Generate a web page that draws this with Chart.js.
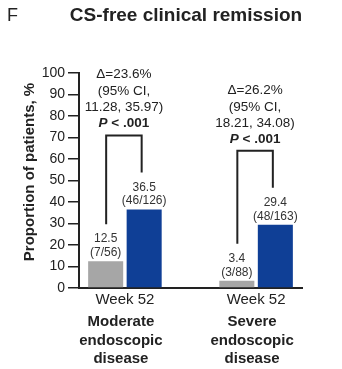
<!DOCTYPE html>
<html>
<head>
<meta charset="utf-8">
<script src="https://cdn.jsdelivr.net/npm/chart.js@4.4.1/dist/chart.umd.min.js"></script>
<style>
  html, body { margin: 0; padding: 0; background: #fff; }
  #wrap { position: relative; width: 342px; height: 369px; }
</style>
</head>
<body>
<div id="wrap"><canvas id="remission"></canvas></div>
<script>
// ---------- data ----------
const panelLetter = 'F';
const chartTitle = 'CS-free clinical remission';
const timepoint = 'Week 52';
const groups = [
  ['Moderate', 'endoscopic', 'disease'],
  ['Severe', 'endoscopic', 'disease']
];
const placeboPct = [12.5, 3.4];
const placeboN = ['7/56', '3/88'];
const treatedPct = [36.5, 29.4];
const treatedN = ['46/126', '48/163'];
const deltas = ['23.6', '26.2'];
const ciLow = ['11.28', '18.21'];
const ciHigh = ['35.97', '34.08'];
const pText = ['< .001', '< .001'];
const yTicks = [0, 10, 20, 30, 40, 50, 60, 70, 80, 90, 100];

const INK = '#222';
const FONT = '"Liberation Sans", Arial, sans-serif';

const toPoints = (vals) => vals.map((v, i) => ({ x: i, y: v }));

// ---------- annotations drawn on top of the chart ----------
const annotate = {
  id: 'annotate',
  afterDraw(chart) {
    const { ctx, scales } = chart;
    const xs = scales.x;
    const ys = scales.y;
    const gray = chart.getDatasetMeta(0).data;
    const blue = chart.getDatasetMeta(1).data;
    ctx.save();

    // panel letter + title
    ctx.fillStyle = INK;
    ctx.textBaseline = 'middle';
    ctx.textAlign = 'left';
    ctx.font = '18px ' + FONT;
    ctx.fillText(panelLetter, 7, 16);
    ctx.textAlign = 'center';
    ctx.font = 'bold 19px ' + FONT;
    ctx.fillText(chartTitle, 186, 16);

    // y axis title
    ctx.save();
    ctx.translate(30, 172);
    ctx.rotate(-Math.PI / 2);
    ctx.font = 'bold 15px ' + FONT;
    ctx.fillText('Proportion of patients, %', 0, 0);
    ctx.restore();

    // value labels above bars
    ctx.font = '12px ' + FONT;
    ctx.fillStyle = '#333';
    const valueLabel = (bar, pct, n) => {
      ctx.fillText(pct.toFixed(1), bar.x, bar.y - 22);
      ctx.fillText('(' + n + ')', bar.x, bar.y - 8.5);
    };
    groups.forEach((g, i) => {
      valueLabel(gray[i], placeboPct[i], placeboN[i]);
      valueLabel(blue[i], treatedPct[i], treatedN[i]);
    });

    // brackets + delta text
    groups.forEach((g, i) => {
      const lx = gray[i].x + 0.5;
      const rx = blue[i].x - 2.5;
      const top = blue[i].y - 74;
      ctx.strokeStyle = INK;
      ctx.lineWidth = 2;
      ctx.beginPath();
      ctx.moveTo(lx, gray[i].y - 37);
      ctx.lineTo(lx, top);
      ctx.lineTo(rx, top);
      ctx.lineTo(rx, blue[i].y - 37);
      ctx.stroke();

      const cx = (lx + rx) / 2;
      ctx.fillStyle = INK;
      ctx.font = '13.5px ' + FONT;
      ctx.textAlign = 'center';
      ctx.fillText('\u0394=' + deltas[i] + '%', cx, top - 61);
      ctx.fillText('(95% CI,', cx, top - 44);
      ctx.fillText(ciLow[i] + ', ' + ciHigh[i] + ')', cx, top - 28);

      // "P < .001" with italic P
      ctx.font = 'italic bold 13.5px ' + FONT;
      const wP = ctx.measureText('P').width;
      ctx.font = 'bold 13.5px ' + FONT;
      const rest = ' ' + pText[i];
      const wR = ctx.measureText(rest).width;
      const x0 = cx - (wP + wR) / 2;
      ctx.textAlign = 'left';
      ctx.font = 'italic bold 13.5px ' + FONT;
      ctx.fillText('P', x0, top - 12);
      ctx.font = 'bold 13.5px ' + FONT;
      ctx.fillText(rest, x0 + wP, top - 12);
      ctx.textAlign = 'center';
    });

    // group names under the x tick labels
    ctx.font = 'bold 15px ' + FONT;
    ctx.fillStyle = INK;
    groups.forEach((lines, i) => {
      const x = xs.getPixelForValue(i) - 4;
      lines.forEach((t, k) => ctx.fillText(t, x, 322 + k * 18.5));
    });

    ctx.restore();
  }
};

new Chart(document.getElementById('remission'), {
  type: 'bar',
  data: {
    datasets: [
      { data: toPoints(placeboPct), backgroundColor: '#a6a6a6' },
      { data: toPoints(treatedPct), backgroundColor: '#0f3f96' }
    ]
  },
  options: {
    responsive: true,
    maintainAspectRatio: false,
    animation: false,
    categoryPercentage: 0.587,
    barPercentage: 0.91,
    layout: { padding: { left: 0, right: 40, top: 73, bottom: 0 } },
    plugins: {
      legend: { display: false },
      tooltip: { enabled: false },
      title: { display: false }
    },
    scales: {
      x: {
        type: 'linear',
        offset: false,
        min: -0.35,
        max: 1.35,
        afterBuildTicks: (s) => { s.ticks = groups.map((g, i) => ({ value: i })); },
        afterFit: (s) => { s.height = 81; },
        ticks: {
          callback: () => timepoint,
          color: INK,
          padding: 3,
          maxRotation: 0,
          font: { family: FONT, size: 15 }
        },
        grid: { drawOnChartArea: false, drawTicks: false, color: INK },
        border: { display: true, color: INK, width: 2 }
      },
      y: {
        min: 0,
        max: 100,
        afterBuildTicks: (s) => { s.ticks = yTicks.map((v) => ({ value: v })); },
        afterFit: (s) => { s.width = 79; },
        ticks: {
          color: INK,
          padding: 3,
          font: { family: FONT, size: 14 }
        },
        grid: { drawOnChartArea: false, drawTicks: true, tickLength: 11, color: INK, lineWidth: 1.5 },
        border: { display: true, color: INK, width: 2 }
      }
    }
  },
  plugins: [annotate]
});
</script>
</body>
</html>
